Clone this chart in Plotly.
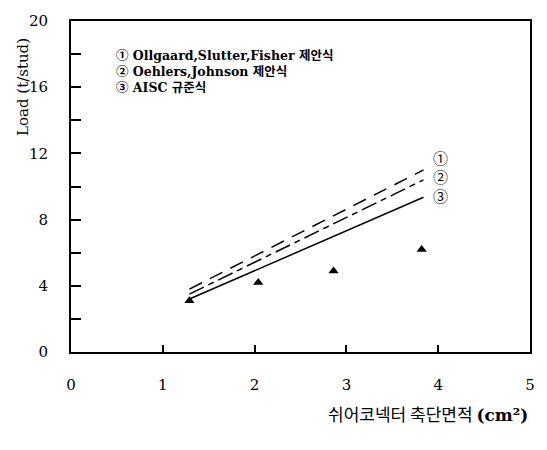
import plotly.graph_objects as go

# Test data: shear connector cross-section area (cm^2) vs load (t/stud)
area = [1.29, 2.04, 2.86, 3.82]
test_load = [3.1, 4.2, 4.9, 6.2]

# Design equation lines (end points)
eq_x = [1.29, 3.84]
eq1_load = [3.8, 11.0]   # Ollgaard, Slutter, Fisher
eq2_load = [3.5, 10.4]   # Oehlers, Johnson
eq3_load = [3.2, 9.35]   # AISC

legend_labels = ["① Ollgaard,Slutter,Fisher 제안식",
                 "② Oehlers,Johnson 제안식",
                 "③ AISC 규준식"]
line_marks = ["①", "②", "③"]

x_ticks = [0, 1, 2, 3, 4, 5]
y_ticks = [0, 4, 8, 12, 16, 20]

SERIF = "DejaVu Serif, Noto Sans CJK KR, serif"
KR = "Noto Sans CJK KR, sans-serif"

fig = go.Figure()
fig.add_trace(go.Scatter(x=eq_x, y=eq1_load, mode="lines",
                         line=dict(color="black", width=1.5, dash="14px,9px"),
                         showlegend=False))
fig.add_trace(go.Scatter(x=eq_x, y=eq2_load, mode="lines",
                         line=dict(color="black", width=1.5, dash="16px,5px,6px,5px"),
                         showlegend=False))
fig.add_trace(go.Scatter(x=eq_x, y=eq3_load, mode="lines",
                         line=dict(color="black", width=1.5),
                         showlegend=False))
fig.add_trace(go.Scatter(x=area, y=test_load, mode="markers",
                         marker=dict(symbol="triangle-up", size=9, color="black"),
                         showlegend=False))

# circled labels at line ends
mark_y = [11.75, 10.6, 9.45]
for m, yy in zip(line_marks, mark_y):
    fig.add_annotation(x=4.02, y=yy, xref="x", yref="y", text=m, showarrow=False,
                       font=dict(family=KR, size=15, color="black"),
                       xanchor="center", yanchor="middle")

# legend text
leg_y = [17.9, 16.95, 16.0]
for lab, yy in zip(legend_labels, leg_y):
    fig.add_annotation(x=0.47, y=yy, xref="x", yref="y", text="<b>" + lab + "</b>",
                       showarrow=False, xanchor="left", yanchor="middle",
                       font=dict(family=SERIF, size=12.5, color="black"))

# axis titles
fig.add_annotation(x=-0.105, y=16.0, xref="paper", yref="y", text="Load (t/stud)",
                   textangle=-90, showarrow=False, xanchor="center", yanchor="middle",
                   font=dict(family=SERIF, size=15, color="black"))
fig.add_annotation(x=1.0, y=-0.185, xref="paper", yref="paper",
                   text="쉬어코넥터 축단면적 <b><span style='font-family:DejaVu Serif'>(cm²)</span></b>",
                   showarrow=False, xanchor="right", yanchor="middle",
                   font=dict(family=KR, size=17, color="black"))

fig.update_xaxes(range=[0, 5], tickvals=x_ticks, ticktext=[str(v) for v in x_ticks],
                 showgrid=False, zeroline=False, showline=True, mirror=True,
                 linecolor="black", linewidth=2, ticks="inside", ticklen=7,
                 tickwidth=1.5, tickcolor="black",
                 tickfont=dict(family=SERIF, size=15, color="black"),
                 ticklabelstandoff=18)
fig.update_yaxes(range=[0, 20], tickvals=[0, 2, 4, 6, 8, 10, 12, 14, 16, 18, 20],
                 ticktext=["0", "", "4", "", "8", "", "12", "", "16", "", "20"],
                 showgrid=False, zeroline=False, showline=True, mirror=True,
                 linecolor="black", linewidth=2, ticks="inside", ticklen=10,
                 tickwidth=1.5, tickcolor="black",
                 tickfont=dict(family=SERIF, size=15, color="black"),
                 ticklabelstandoff=18)

fig.update_layout(width=547, height=450, margin=dict(l=71, r=14, t=14, b=98),
                  plot_bgcolor="white", paper_bgcolor="white")

fig.write_html("out.html")
